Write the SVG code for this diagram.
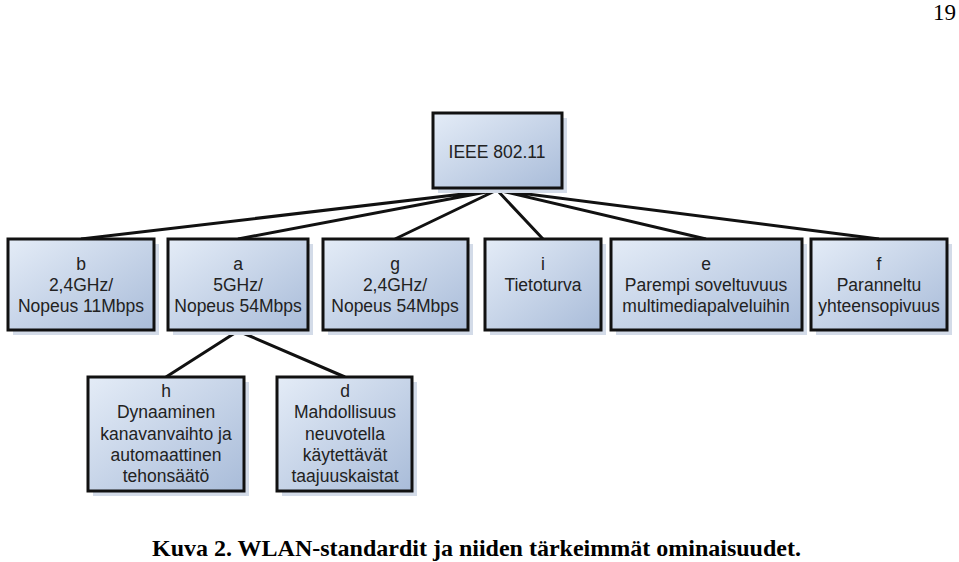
<svg xmlns="http://www.w3.org/2000/svg" width="959" height="562" viewBox="0 0 959 562">
<defs>
<linearGradient id="g1" x1="0" y1="0" x2="1" y2="1"><stop offset="0" stop-color="#e4ecf7"/><stop offset="1" stop-color="#a9bcd9"/></linearGradient>
</defs>
<style>
.box{fill:url(#g1);stroke:#111;stroke-width:3}
.sh{fill:#d3dbe8}
.t{font-family:"Liberation Sans",Arial,sans-serif;font-size:17.5px;fill:#222;text-anchor:middle}
.c{stroke:#111;stroke-width:3;fill:none}
.cap{font-family:"Liberation Serif","Times New Roman",serif;font-size:24px;font-weight:bold;fill:#000}
</style>
<rect width="959" height="562" fill="#fff"/>
<text x="956" y="20" font-family="Liberation Serif,serif" font-size="23" text-anchor="end">19</text>
<g id="connectors">
<path class="c" d="M497 190L81 239M497 190L238 239M497 190L395 239M497 190L543 239M497 190L706 239M497 190L879 239M238 331L166 377M238 331L345 377"/>
</g>
<g id="root"><rect class="sh" x="438" y="118" width="129" height="75"/><rect class="box" x="433" y="113" width="129" height="75"/><text class="t" x="497" y="158">IEEE 802.11</text></g>
<g id="b"><rect class="sh" x="13" y="244" width="146" height="91"/><rect class="box" x="8" y="239" width="146" height="91"/><text class="t" x="81" y="270">b</text><text class="t" x="81" y="291">2,4GHz/</text><text class="t" x="81" y="312">Nopeus 11Mbps</text></g>
<g id="a"><rect class="sh" x="173" y="244" width="140" height="91"/><rect class="box" x="168" y="239" width="140" height="91"/><text class="t" x="238" y="270">a</text><text class="t" x="238" y="291">5GHz/</text><text class="t" x="238" y="312">Nopeus 54Mbps</text></g>
<g id="g"><rect class="sh" x="328" y="244" width="145" height="91"/><rect class="box" x="323" y="239" width="145" height="91"/><text class="t" x="395" y="270">g</text><text class="t" x="395" y="291">2,4GHz/</text><text class="t" x="395" y="312">Nopeus 54Mbps</text></g>
<g id="i"><rect class="sh" x="490" y="244" width="116" height="91"/><rect class="box" x="485" y="239" width="116" height="91"/><text class="t" x="543" y="270">i</text><text class="t" x="543" y="291">Tietoturva</text></g>
<g id="e"><rect class="sh" x="616" y="244" width="191" height="91"/><rect class="box" x="611" y="239" width="191" height="91"/><text class="t" x="706" y="270">e</text><text class="t" x="706" y="291">Parempi soveltuvuus</text><text class="t" x="706" y="312">multimediapalveluihin</text></g>
<g id="f"><rect class="sh" x="816" y="244" width="136" height="91"/><rect class="box" x="811" y="239" width="136" height="91"/><text class="t" x="879" y="270">f</text><text class="t" x="879" y="291">Paranneltu</text><text class="t" x="879" y="312">yhteensopivuus</text></g>
<g id="h"><rect class="sh" x="93" y="382" width="156" height="114"/><rect class="box" x="88" y="377" width="156" height="114"/><text class="t" x="166" y="397">h</text><text class="t" x="166" y="418">Dynaaminen</text><text class="t" x="166" y="440">kanavanvaihto ja</text><text class="t" x="166" y="461">automaattinen</text><text class="t" x="166" y="482">tehonsäätö</text></g>
<g id="d"><rect class="sh" x="282" y="382" width="135" height="114"/><rect class="box" x="277" y="377" width="135" height="114"/><text class="t" x="345" y="397">d</text><text class="t" x="345" y="418">Mahdollisuus</text><text class="t" x="345" y="440">neuvotella</text><text class="t" x="345" y="461">käytettävät</text><text class="t" x="345" y="482">taajuuskaistat</text></g>
<text class="cap" x="152" y="556">Kuva 2. WLAN-standardit ja niiden tärkeimmät  ominaisuudet.</text>
</svg>
